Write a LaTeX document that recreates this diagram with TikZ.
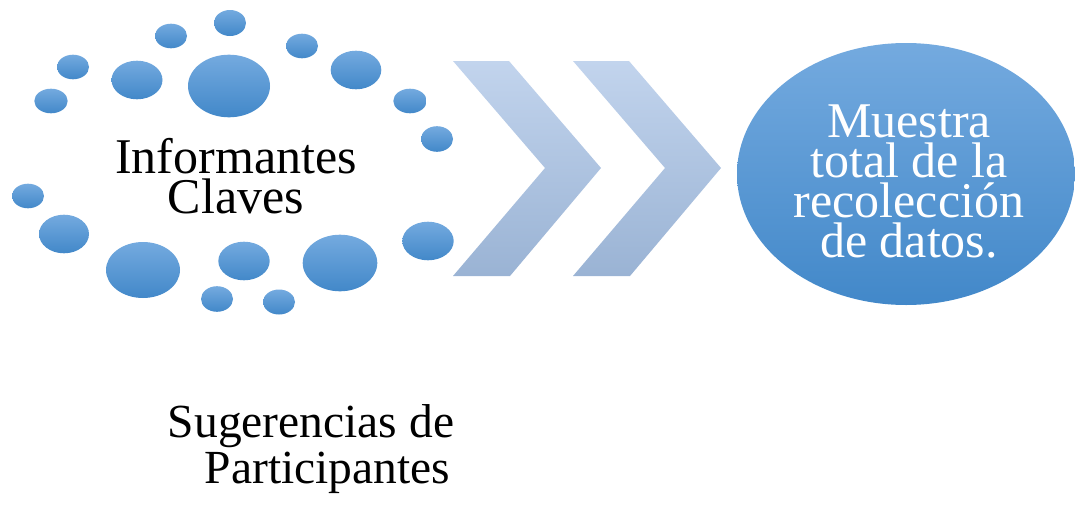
\documentclass[tikz,border=0pt]{standalone}
\usepackage{fontspec}
\setmainfont{Liberation Serif}
\definecolor{dotTop}{RGB}{116,170,223}
\definecolor{dotBot}{RGB}{66,136,201}
\definecolor{chevTop}{RGB}{194,212,237}
\definecolor{chevBot}{RGB}{154,179,212}
\newcommand{\mytight}{\setlength{\lineskiplimit}{-100pt}}
\begin{document}
\begin{tikzpicture}[x=1pt,y=-1pt,
  dot/.style={top color=dotTop,bottom color=dotBot,draw=none},
  chev/.style={top color=chevTop,bottom color=chevBot,draw=none},
  lbl/.style={inner sep=0pt,outer sep=0pt}]
\useasboundingbox (0,0) rectangle (1075,506);
% small dots
\foreach \x/\y/\rx/\ry in {
  230/23/16/13, 171/36/16/12.3, 302/46/16/12.3, 73/67/16/12.3,
  137/80/25.5/19.3, 229/86/41/31.3, 356/70/25.3/19.3,
  51/101/16.7/12.3, 410/101/16.7/12.3, 437/139/16/12.8,
  28/196/16/12.3, 64/234/25/19.3, 143/270/37/28, 244/261/25.7/19.3,
  340/263/37.3/28.3, 428/241/25.7/19.3, 217/299/16/12.8, 279/302/16/12.5}
  {\shade[dot] (\x,\y) ellipse [x radius=\rx, y radius=\ry];}
% chevrons
\shade[chev] (453,61) -- (509,61) -- (601,168) -- (510,276) -- (453,276) -- (545,168) -- cycle;
\shade[chev] (573,61) -- (629,61) -- (721,168) -- (630,276) -- (573,276) -- (665,168) -- cycle;
% big ellipse
\shade[dot] (906,174) ellipse [x radius=169, y radius=131];
% texts
\node[lbl,align=center,font=\fontsize{50}{40}\selectfont\mytight]
  (informantes) at (236,176) {Informantes\\Claves};
\node[lbl,align=center,text=white,font=\fontsize{50}{40}\selectfont\mytight]
  (muestra) at (909,181) {Muestra\\total de la\\recolección\\de datos.};
\node[lbl,align=left,font=\fontsize{47.5}{46}\selectfont\mytight]
  (sugerencias) at (311,449) {Sugerencias de\\\hspace*{37pt}Participantes};
\end{tikzpicture}
\end{document}
